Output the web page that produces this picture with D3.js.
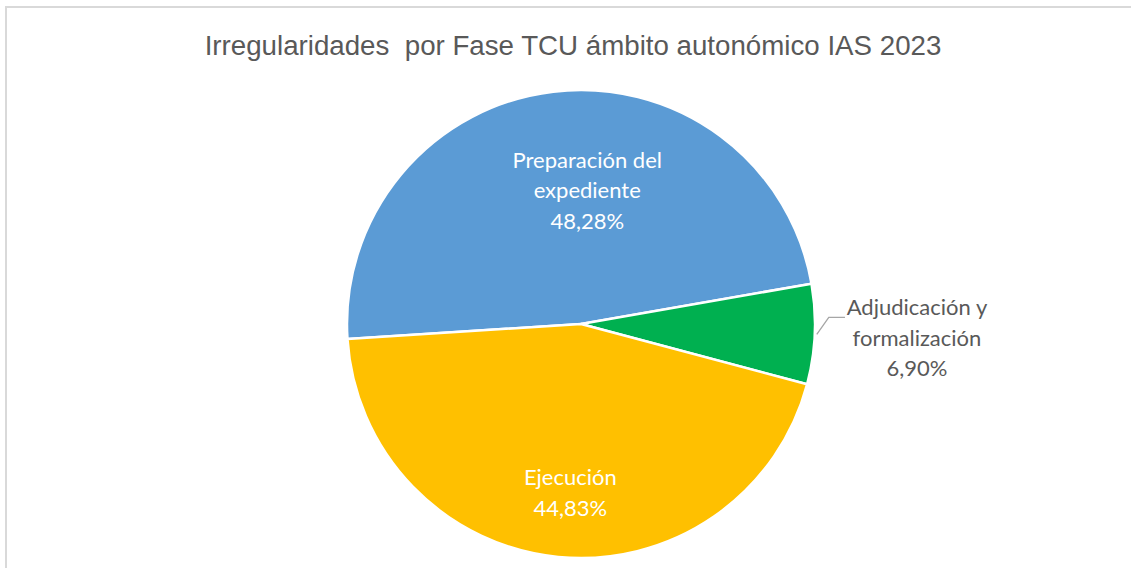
<!DOCTYPE html>
<html>
<head>
<meta charset="utf-8">
<script src="https://cdn.jsdelivr.net/npm/d3@7"></script>
<style>
  html, body { margin: 0; padding: 0; background: #fff; }
  svg { display: block; }
</style>
</head>
<body>
<svg id="chart" width="1131" height="568"></svg>
<script>
// Slice data, in drawing order (clockwise)
const categories = ["Preparación del expediente", "Adjudicación y formalización", "Ejecución"];
const values = [48.28, 6.90, 44.83];
const labelLines = [["Preparación del", "expediente"], ["Adjudicación y", "formalización"], ["Ejecución"]];
const colors = ["#5b9bd5", "#00b050", "#ffc000"];
const title = "Irregularidades  por Fase TCU ámbito autonómico IAS 2023";

const svg = d3.select("#chart");
const W = 1131, H = 568;

// chart area frame
svg.append("rect")
  .attr("x", 6).attr("y", 7)
  .attr("width", W + 20).attr("height", H + 20)
  .attr("fill", "#fff")
  .attr("stroke", "#d9d9d9").attr("stroke-width", 2);

svg.append("text")
  .attr("x", 573).attr("y", 55)
  .attr("text-anchor", "middle")
  .attr("font-family", "Liberation Sans, Arial, sans-serif")
  .attr("font-size", 27.7)
  .attr("fill", "#595959")
  .style("white-space", "pre")
  .text(title);

const cx = 581, cy = 324, R = 234;
const startDeg = -93.7;
const pie = d3.pie().sort(null).value(d => d)
  .startAngle(startDeg * Math.PI / 180)
  .endAngle((startDeg + 360) * Math.PI / 180);
const arcs = pie(values);
const arc = d3.arc().innerRadius(0).outerRadius(R);

const g = svg.append("g").attr("transform", `translate(${cx},${cy})`);
g.selectAll("path.slice")
  .data(arcs)
  .join("path")
  .attr("class", "slice")
  .attr("d", arc)
  .attr("fill", (d, i) => colors[i])
  .attr("stroke", "#fff")
  .attr("stroke-width", 2.5)
  .attr("stroke-linejoin", "round");

const fmt = v => v.toFixed(2).replace(".", ",") + "%";
const labelFont = "Lato, 'Open Sans', sans-serif";
const fontSize = 22;
const lineH = 30.5;

// label anchor radius per slice (fraction of R) and horizontal nudge; the small slice is labelled outside
const labelRadius = [0.57, 1.45, 0.73];
const labelNudge = [22, -3, 6];

arcs.forEach((d, i) => {
  const mid = (d.startAngle + d.endAngle) / 2;
  const r = R * labelRadius[i];
  const lx = Math.sin(mid) * r + labelNudge[i];
  const ly = -Math.cos(mid) * r - 1;
  const lines = labelLines[i].concat([fmt(values[i])]);
  const inside = labelRadius[i] < 1;
  const t = g.append("text")
    .attr("text-anchor", "middle")
    .attr("font-family", labelFont)
    .attr("font-size", fontSize)
    .attr("fill", inside ? "#ffffff" : "#595959");
  const y0 = ly - (lines.length - 1) * lineH / 2;
  lines.forEach((s, k) => {
    t.append("tspan").attr("x", lx).attr("y", y0 + k * lineH).attr("dy", "0.35em").text(s);
  });
  if (!inside) {
    // leader line from the slice edge to the label's first line
    const ex = Math.sin(mid) * (R + 2), ey = -Math.cos(mid) * (R + 2);
    const by = y0 + 10;
    const tx = lx - 72;
    g.append("polyline")
      .attr("points", [[ex, ey], [ex + 12, by], [tx, by]].map(p => p.join(",")).join(" "))
      .attr("fill", "none")
      .attr("stroke", "#a6a6a6")
      .attr("stroke-width", 1.3);
  }
});
</script>
</body>
</html>
